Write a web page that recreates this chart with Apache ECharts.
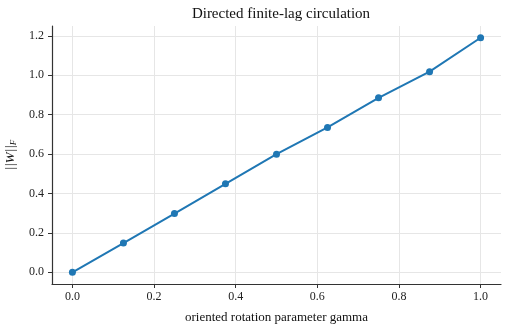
<!DOCTYPE html>
<html>
<head>
<meta charset="utf-8">
<script src="https://cdn.jsdelivr.net/npm/echarts@6/dist/echarts.min.js"></script>
<style>
html,body{margin:0;padding:0;background:#fff;}
#chart{width:508px;height:328px;}
</style>
</head>
<body>
<div id="chart"></div>
<script>
// gamma values and Frobenius norm
const gammaValues = [0, 0.125, 0.25, 0.375, 0.5, 0.625, 0.75, 0.875, 1.0];
const normValues = [0, 0.148, 0.298, 0.449, 0.599, 0.735, 0.885, 1.018, 1.19];
const xTicks = [0, 0.2, 0.4, 0.6, 0.8, 1.0];
const yTicks = [0, 0.2, 0.4, 0.6, 0.8, 1.0, 1.2];

const serif = "'Liberation Serif', 'DejaVu Serif', serif";

const chart = echarts.init(document.getElementById("chart"));

chart.setOption({
    animation: false,
    title: {
        text: "Directed finite-lag circulation",
        left: 276,
        textAlign: "center",
        top: 2,
        textStyle: {fontFamily: serif, fontSize: 15, fontWeight: "normal", color: "#111"}
    },
    grid: {left: 52, right: 7, top: 26, bottom: 44, outerBoundsMode: "none", containLabel: false},
    xAxis: {
        type: "value",
        min: -0.05,
        max: 1.05,
        name: "oriented rotation parameter gamma",
        nameLocation: "middle",
        nameGap: 27,
        nameTextStyle: {fontFamily: serif, fontSize: 13, color: "#111"},
        axisLine: {show: true, onZero: false, lineStyle: {color: "#333", width: 1.2}},
        axisTick: {show: true, length: 4, customValues: xTicks, lineStyle: {color: "#333"}},
        axisLabel: {
            customValues: xTicks,
            fontFamily: serif, fontSize: 12, color: "#222", margin: 7,
            formatter: v => v.toFixed(1)
        },
        splitLine: {show: true, lineStyle: {color: "#e6e6e6", width: 1}}
    },
    yAxis: {
        type: "value",
        min: -0.0595,
        max: 1.2495,
        name: "{n|||W||}{s|F}",
        nameLocation: "middle",
        nameGap: 34,
        nameRotate: 90,
        nameTextStyle: {
            rich: {
                n: {fontFamily: serif, fontSize: 13, fontStyle: "italic", color: "#111"},
                s: {fontFamily: serif, fontSize: 9, fontStyle: "italic", color: "#111", verticalAlign: "bottom", padding: [6, 0, 0, 0]}
            }
        },
        axisLine: {show: true, onZero: false, lineStyle: {color: "#333", width: 1.2}},
        axisTick: {show: true, length: 4, customValues: yTicks, lineStyle: {color: "#333"}},
        axisLabel: {
            customValues: yTicks,
            fontFamily: serif, fontSize: 12, color: "#222", margin: 8,
            formatter: v => v.toFixed(1)
        },
        splitLine: {show: true, lineStyle: {color: "#e6e6e6", width: 1}}
    },
    series: [
        {
            type: "line",
            data: gammaValues.map((g, i) => [g, normValues[i]]),
            symbol: "circle",
            symbolSize: 7,
            lineStyle: {color: "#1f77b4", width: 2},
            itemStyle: {color: "#1f77b4"}
        }
    ]
});
</script>
</body>
</html>
